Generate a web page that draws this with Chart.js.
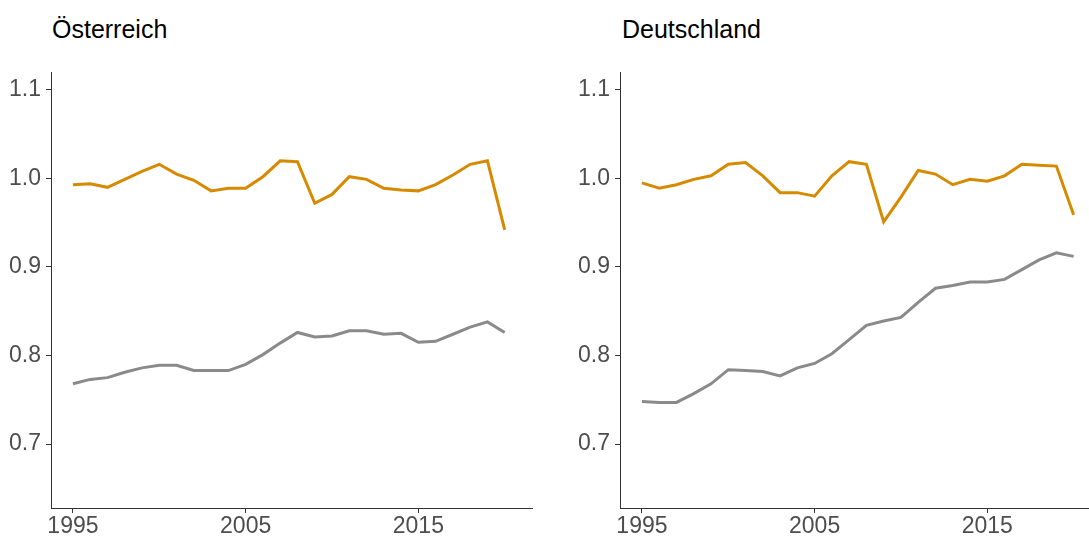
<!DOCTYPE html>
<html lang="de">
<head>
    <meta charset="UTF-8" />
    <title>Österreich / Deutschland</title>
    <script src="https://cdn.jsdelivr.net/npm/chart.js"></script>
    <style>
        html, body {
            margin: 0;
            padding: 0;
            background: #fff;
            overflow: hidden;
            width: 1089px;
            height: 538px;
        }

        .panel {
            position: absolute;
            top: 0;
            height: 538px;
        }

        .title {
            position: absolute;
            top: 15px;
            font-family: "Liberation Sans", Arial, sans-serif;
            font-size: 25px;
            color: #000;
        }
    </style>
</head>
<body>

    <div class="title" style="left: 52px;">Österreich</div>
    <div class="title" style="left: 622px;">Deutschland</div>

    <div class="panel" style="left: 0; width: 545px;">
        <canvas id="atChart" width="545" height="538"></canvas>
    </div>
    <div class="panel" style="left: 560px; width: 529px;">
        <canvas id="deChart" width="529" height="538"></canvas>
    </div>

    <script>
        // years 1995 - 2020
        const years = [1995, 1996, 1997, 1998, 1999, 2000, 2001, 2002, 2003, 2004,
            2005, 2006, 2007, 2008, 2009, 2010, 2011, 2012, 2013, 2014,
            2015, 2016, 2017, 2018, 2019, 2020];

        const xTicks = [1995, 2005, 2015];
        const yTicks = [0.7, 0.8, 0.9, 1.0, 1.1];

        // Österreich
        const atOrange = [0.993, 0.994, 0.990, 0.999, 1.008, 1.016, 1.005, 0.998, 0.986, 0.989,
            0.989, 1.002, 1.020, 1.019, 0.972, 0.982, 1.002, 0.999, 0.989, 0.987,
            0.986, 0.993, 1.004, 1.016, 1.020, 0.942];
        const atGrey = [0.768, 0.773, 0.775, 0.781, 0.786, 0.789, 0.789, 0.783, 0.783, 0.783,
            0.790, 0.801, 0.814, 0.826, 0.821, 0.822, 0.828, 0.828, 0.824, 0.825,
            0.815, 0.816, 0.824, 0.832, 0.838, 0.826];

        // Deutschland
        const deOrange = [0.995, 0.989, 0.993, 0.999, 1.003, 1.016, 1.018, 1.003, 0.984, 0.984,
            0.980, 1.003, 1.019, 1.016, 0.951, 0.979, 1.009, 1.005, 0.993, 0.999,
            0.997, 1.003, 1.016, 1.015, 1.014, 0.959];
        const deGrey = [0.748, 0.747, 0.747, 0.757, 0.768, 0.784, 0.783, 0.782, 0.777, 0.786,
            0.791, 0.802, 0.818, 0.834, 0.839, 0.843, 0.860, 0.876, 0.879, 0.883,
            0.883, 0.886, 0.897, 0.908, 0.916, 0.912];

        const orange = "#d68a00";
        const grey = "#8a8a8a";
        const axisColor = "#333333";
        const tickFont = { family: "'Liberation Sans', Arial, sans-serif", size: 23 };

        function toPoints(values) {
            return values.map((v, i) => ({ x: years[i], y: v }));
        }

        function makeChart(id, orangeVals, greyVals, xMax, yAxisWidth, padRight) {
            const ctx = document.getElementById(id).getContext("2d");
            return new Chart(ctx, {
                type: "line",
                data: {
                    datasets: [{
                        data: toPoints(greyVals),
                        borderColor: grey,
                        borderWidth: 3,
                        pointRadius: 0,
                        tension: 0
                    }, {
                        data: toPoints(orangeVals),
                        borderColor: orange,
                        borderWidth: 3,
                        pointRadius: 0,
                        tension: 0
                    }]
                },
                options: {
                    responsive: false,
                    animation: false,
                    layout: { padding: { top: 72, right: padRight, left: 0, bottom: 0 } },
                    plugins: {
                        legend: { display: false },
                        tooltip: { enabled: false }
                    },
                    scales: {
                        x: {
                            type: "linear",
                            min: 1993.73,
                            max: xMax,
                            afterBuildTicks: axis => { axis.ticks = xTicks.map(v => ({ value: v })); },
                            afterFit: axis => { axis.height = 30; },
                            grid: { drawOnChartArea: false, drawTicks: true, tickLength: 5, color: axisColor },
                            border: { display: true, color: axisColor, width: 1 },
                            ticks: {
                                font: tickFont,
                                color: "#4d4d4d",
                                padding: 0,
                                maxRotation: 0,
                                callback: v => String(v)
                            }
                        },
                        y: {
                            min: 0.6277,
                            max: 1.1203,
                            afterBuildTicks: axis => { axis.ticks = yTicks.map(v => ({ value: v })); },
                            afterFit: axis => { axis.width = yAxisWidth; },
                            grid: { drawOnChartArea: false, drawTicks: true, tickLength: 5, color: axisColor },
                            border: { display: true, color: axisColor, width: 1 },
                            ticks: {
                                font: tickFont,
                                color: "#4d4d4d",
                                padding: 5,
                                callback: v => v.toFixed(1)
                            }
                        }
                    }
                }
            });
        }

        makeChart("atChart", atOrange, atGrey, 2021.58, 51, 13);
        makeChart("deChart", deOrange, deGrey, 2020.89, 60, 0);
    </script>
</body>
</html>
